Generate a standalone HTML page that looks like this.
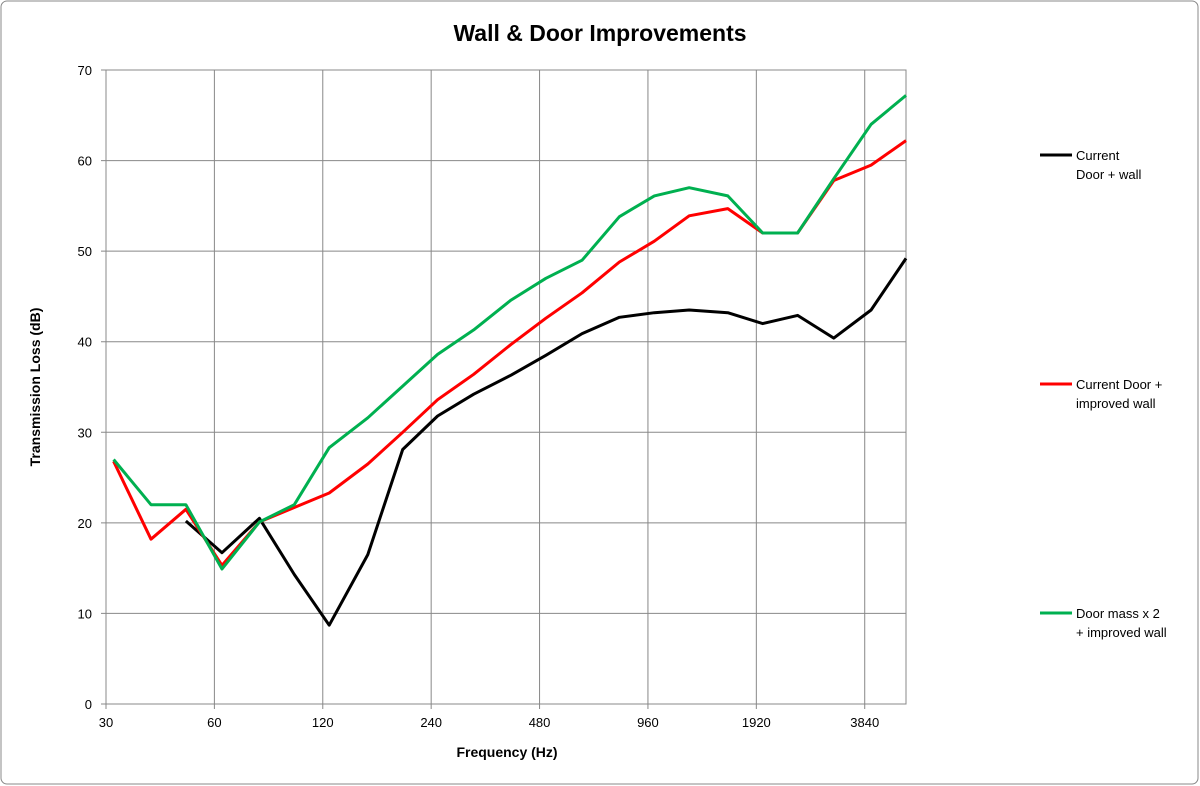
<!DOCTYPE html>
<html><head><meta charset="utf-8"><style>
body{margin:0;background:#fff;}
svg{display:block;font-family:"Liberation Sans",Arial,sans-serif;}
</style></head><body>
<svg id="chart" width="1200" height="786">
<rect x="1" y="1" width="1197" height="783" rx="6" fill="#fff" stroke="#888"/>
<text x="600" y="41" text-anchor="middle" font-size="23" font-weight="bold">Wall &amp; Door Improvements</text>
<g id="grid"></g>
<g id="series"></g>
<text transform="translate(40,387) rotate(-90)" text-anchor="middle" font-size="14" font-weight="bold">Transmission Loss (dB)</text>
<text x="507" y="757" text-anchor="middle" font-size="14" font-weight="bold">Frequency (Hz)</text>
<g id="legend"></g>
</svg>
<script>
const freqs=[31.5,40,50,63,80,100,125,160,200,250,315,400,500,630,800,1000,1250,1600,2000,2500,3150,4000,5000];
const currentWall=[null,null,20.2,16.7,20.5,14.3,8.7,16.5,28.1,31.8,34.2,36.3,38.5,40.9,42.7,43.2,43.5,43.2,42.0,42.9,40.4,43.5,49.2];
const improvedWall=[26.8,18.2,21.5,15.3,20.1,21.7,23.3,26.5,30.0,33.6,36.4,39.7,42.6,45.4,48.8,51.1,53.9,54.7,52.0,52.0,57.8,59.5,62.2];
const doubleMass=[27.0,22.0,22.0,14.9,20.1,22.0,28.3,31.6,35.1,38.6,41.3,44.6,47.0,49.0,53.8,56.1,57.0,56.1,52.0,52.0,58.0,64.0,67.2];
const xTicks=[30,60,120,240,480,960,1920,3840];
const yTicks=[0,10,20,30,40,50,60,70];
const seriesNames=["Current|Door + wall","Current Door +|improved wall","Door mass x 2|+ improved wall"];
const colors=["#000","#f00","#00b050"];
const X0=106,X1=906,Y0=704,Y1=70,fMin=30,fMax=5000;
const ns="http://www.w3.org/2000/svg";
function xs(f){return X0+Math.log(f/fMin)/Math.log(fMax/fMin)*(X1-X0);}
function ys(v){return Y0-v/70*(Y0-Y1);}
function mk(t,a,p){const e=document.createElementNS(ns,t);for(const k in a)e.setAttribute(k,a[k]);p.appendChild(e);return e;}
const grid=document.getElementById('grid');
mk('rect',{x:X0,y:Y1,width:X1-X0,height:Y0-Y1,fill:'none',stroke:'#888'},grid);
yTicks.forEach(v=>{
 const l=mk('line',{x1:X0-5,x2:X1,y1:ys(v),y2:ys(v),stroke:'#888'},grid);
 
 
 const t=mk('text',{x:X0-14,y:ys(v)+5,'text-anchor':'end','font-size':13},grid);t.textContent=v;
 
 
});
xTicks.forEach(f=>{
 const l=mk('line',{x1:xs(f),x2:xs(f),y1:Y1,y2:Y0+5,stroke:'#888'},grid);
 
 
 const t=mk('text',{x:xs(f),y:Y0+23,'text-anchor':'middle','font-size':13},grid);t.textContent=f;
 
 
});
const sg=document.getElementById('series');
[currentWall,improvedWall,doubleMass].forEach((arr,i)=>{
 const pts=[];arr.forEach((v,j)=>{if(v!=null)pts.push(xs(freqs[j]).toFixed(1)+','+ys(v).toFixed(1));});
 const p=mk('polyline',{points:pts.join(' '),fill:'none',stroke:colors[i],'stroke-width':3,'stroke-linejoin':'round'},sg);
 
 
});
const lg=document.getElementById('legend');
const ly=[155,384,613];
seriesNames.forEach((n,i)=>{
 const g=mk('g',{},lg);
 
 
 mk('line',{x1:1040,x2:1072,y1:ly[i],y2:ly[i],stroke:colors[i],'stroke-width':3},g);
 n.split('|').forEach((s,k)=>{const t=mk('text',{x:1076,y:ly[i]+5+k*19,'font-size':13},g);t.textContent=s;});
});
</script>
</body></html>
